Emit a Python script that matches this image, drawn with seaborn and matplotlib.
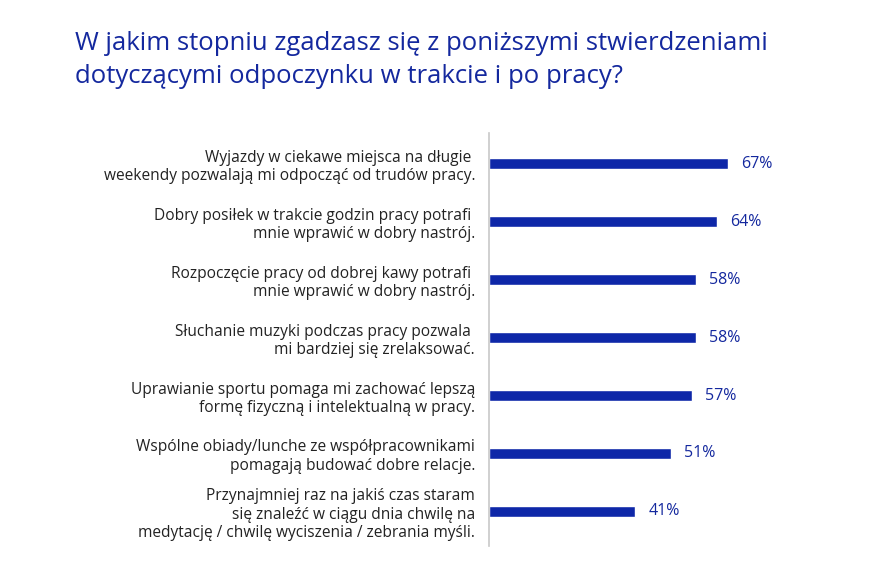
import pandas as pd
import seaborn as sns
import matplotlib.pyplot as plt

# -------------------------------------------------
# Data
# -------------------------------------------------
statements = [
    "Wyjazdy w ciekawe miejsca na długie \nweekendy pozwalają mi odpocząć od trudów pracy.",
    "Dobry posiłek w trakcie godzin pracy potrafi \nmnie wprawić w dobry nastrój.",
    "Rozpoczęcie pracy od dobrej kawy potrafi \nmnie wprawić w dobry nastrój.",
    "Słuchanie muzyki podczas pracy pozwala \nmi bardziej się zrelaksować.",
    "Uprawianie sportu pomaga mi zachować lepszą\nformę fizyczną i intelektualną w pracy.",
    "Wspólne obiady/lunche ze współpracownikami\npomagają budować dobre relacje.",
    "Przynajmniej raz na jakiś czas staram\nsię znaleźć w ciągu dnia chwilę na\nmedytację / chwilę wyciszenia / zebrania myśli.",
]
values = [67, 64, 58, 58, 57, 51, 41]

title = ("W jakim stopniu zgadzasz się z poniższymi stwierdzeniami\n"
         "dotyczącymi odpoczynku w trakcie i po pracy?")

df = pd.DataFrame({"statement": statements, "value": values})

# -------------------------------------------------
# Style
# -------------------------------------------------
sns.set_style("white")
plt.rcParams["font.family"] = ["Open Sans", "DejaVu Sans"]

bar_color = "#0e27a8"
text_blue = "#14289e"

fig = plt.figure(figsize=(8.82, 5.66), dpi=100)
ax = fig.add_axes([0.5544, 0.035, 0.40, 0.73])

sns.barplot(data=df, x="value", y="statement", orient="h",
            color=bar_color, width=0.19, saturation=1, ax=ax)

ax.set_xlim(0, 100 * 0.40 * 882 / 357)
ax.set_ylim(6.6, -0.53)
ax.set_xlabel("")
ax.set_ylabel("")
ax.set_xticks([])

for s in ["top", "right", "bottom"]:
    ax.spines[s].set_visible(False)
ax.spines["left"].set_color("#c8c8c8")
ax.spines["left"].set_linewidth(1.2)

ax.tick_params(axis="y", length=0, pad=10)
ax.set_yticks(range(len(statements)))
ax.set_yticklabels(statements, fontsize=11.2, color="#222222",
                   ha="right", multialignment="right", linespacing=1.2)

for i, v in enumerate(values):
    ax.text(v + 3.6, i, f"{v}%", va="center", ha="left",
            fontsize=11.5, color=text_blue)

fig.text(0.085, 0.945, title, ha="left", va="top", fontsize=18.5,
         color=text_blue, linespacing=1.42)

plt.savefig("out.png", dpi=100)
